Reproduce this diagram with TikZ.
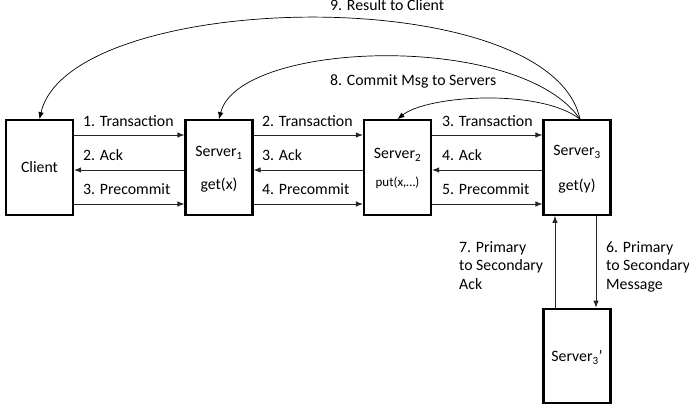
\documentclass[tikz,border=0pt]{standalone}
\usepackage{fontspec}
\setmainfont{Carlito}
\usetikzlibrary{arrows.meta}
\begin{document}
\begin{tikzpicture}[x=1pt,y=-1pt,
  box/.style={draw,line width=2.2pt,minimum width=67pt,minimum height=94.5pt,inner sep=0pt},
  txt/.style={inner sep=0pt,font=\fontsize{15.8}{18.5}\selectfont},
  small/.style={inner sep=0pt,font=\fontsize{13}{15}\selectfont},
  arr/.style={draw=black!85,line width=0.9pt,-{Latex[length=7pt,width=5.5pt]}},
  crv/.style={draw=black,line width=0.7pt,-{Latex[length=7pt,width=5.5pt]}}]
\useasboundingbox[fill=white] (0,0) rectangle (689,411);

% boxes
\node[box] (c)   at (39.5,167.5) {};
\node[box] (s1)  at (219,167.5) {};
\node[box] (s2)  at (397.5,167.5) {};
\node[box] (s3)  at (577,167.5) {};
\node[box] (s3p) at (577,356) {};

% box texts
\node[txt,anchor=base] (ct)  at (39.5,173) {Client};
\node[txt,anchor=base] (s1a) at (219,157) {Server\textsubscript{1}};
\node[txt,anchor=base] (s1b) at (219,190) {get(x)};
\node[txt,anchor=base] (s2a) at (397.5,159) {Server\textsubscript{2}};
\node[small,anchor=base] (s2b) at (397.5,187) {put(x,…)};
\node[txt,anchor=base] (s3a) at (577,156) {Server\textsubscript{3}};
\node[txt,anchor=base] (s3b) at (577,191) {get(y)};
\node[txt,anchor=base] (s3pt) at (577,362) {Server\textsubscript{3}’};

% horizontal arrows
\draw[arr] ([yshift=32.5pt]c.east) -- ([yshift=32.5pt]s1.west);
\draw[arr] ([yshift=-2.5pt]s1.west) -- ([yshift=-2.5pt]c.east);
\draw[arr] ([yshift=-36.5pt]c.east) -- ([yshift=-36.5pt]s1.west);
\draw[arr] ([yshift=32.5pt]s1.east) -- ([yshift=32.5pt]s2.west);
\draw[arr] ([yshift=-2.5pt]s2.west) -- ([yshift=-2.5pt]s1.east);
\draw[arr] ([yshift=-36.5pt]s1.east) -- ([yshift=-36.5pt]s2.west);
\draw[arr] ([yshift=32.5pt]s2.east) -- ([yshift=32.5pt]s3.west);
\draw[arr] ([yshift=-2.5pt]s3.west) -- ([yshift=-2.5pt]s2.east);
\draw[arr] ([yshift=-36.5pt]s2.east) -- ([yshift=-36.5pt]s3.west);

% horizontal labels
\node[txt,anchor=base west] (l1) at (83,127) {1. Transaction};
\node[txt,anchor=base west] (l2) at (83,161) {2. Ack};
\node[txt,anchor=base west] (l3) at (83,195) {3. Precommit};
\node[txt,anchor=base west] (l4) at (262,127) {2. Transaction};
\node[txt,anchor=base west] (l5) at (262,161) {3. Ack};
\node[txt,anchor=base west] (l6) at (262,195) {4. Precommit};
\node[txt,anchor=base west] (l7) at (442,127) {3. Transaction};
\node[txt,anchor=base west] (l8) at (442,161) {4. Ack};
\node[txt,anchor=base west] (l9) at (442,195) {5. Precommit};

% vertical arrows
\draw[arr] ([xshift=-22pt]s3p.north) -- ([xshift=-22pt]s3.south);
\draw[arr] ([xshift=19pt]s3.south) -- ([xshift=19pt]s3p.north);
\node[txt,anchor=north west,align=left] (l7p) at (459,241) {7. Primary\\to Secondary\\Ack};
\node[txt,anchor=north west,align=left] (l6p) at (606,241) {6. Primary\\to Secondary\\Message};

% curves
\draw[crv] ([xshift=3pt]s3.north) .. controls +(-30,-140) and +(30,-130) .. (c.north);
\draw[crv] ([xshift=3pt]s3.north) .. controls +(-60,-88) and +(20,-79) .. (s1.north);
\draw[crv] ([xshift=3pt]s3.north) .. controls +(-40,-31) and +(30,-24) .. (s2.north);
\node[txt,anchor=base west] (r9) at (330,11) {9. Result to Client};
\node[txt,anchor=base west] (r8) at (330,86) {8. Commit Msg to Servers};
\end{tikzpicture}
\end{document}
